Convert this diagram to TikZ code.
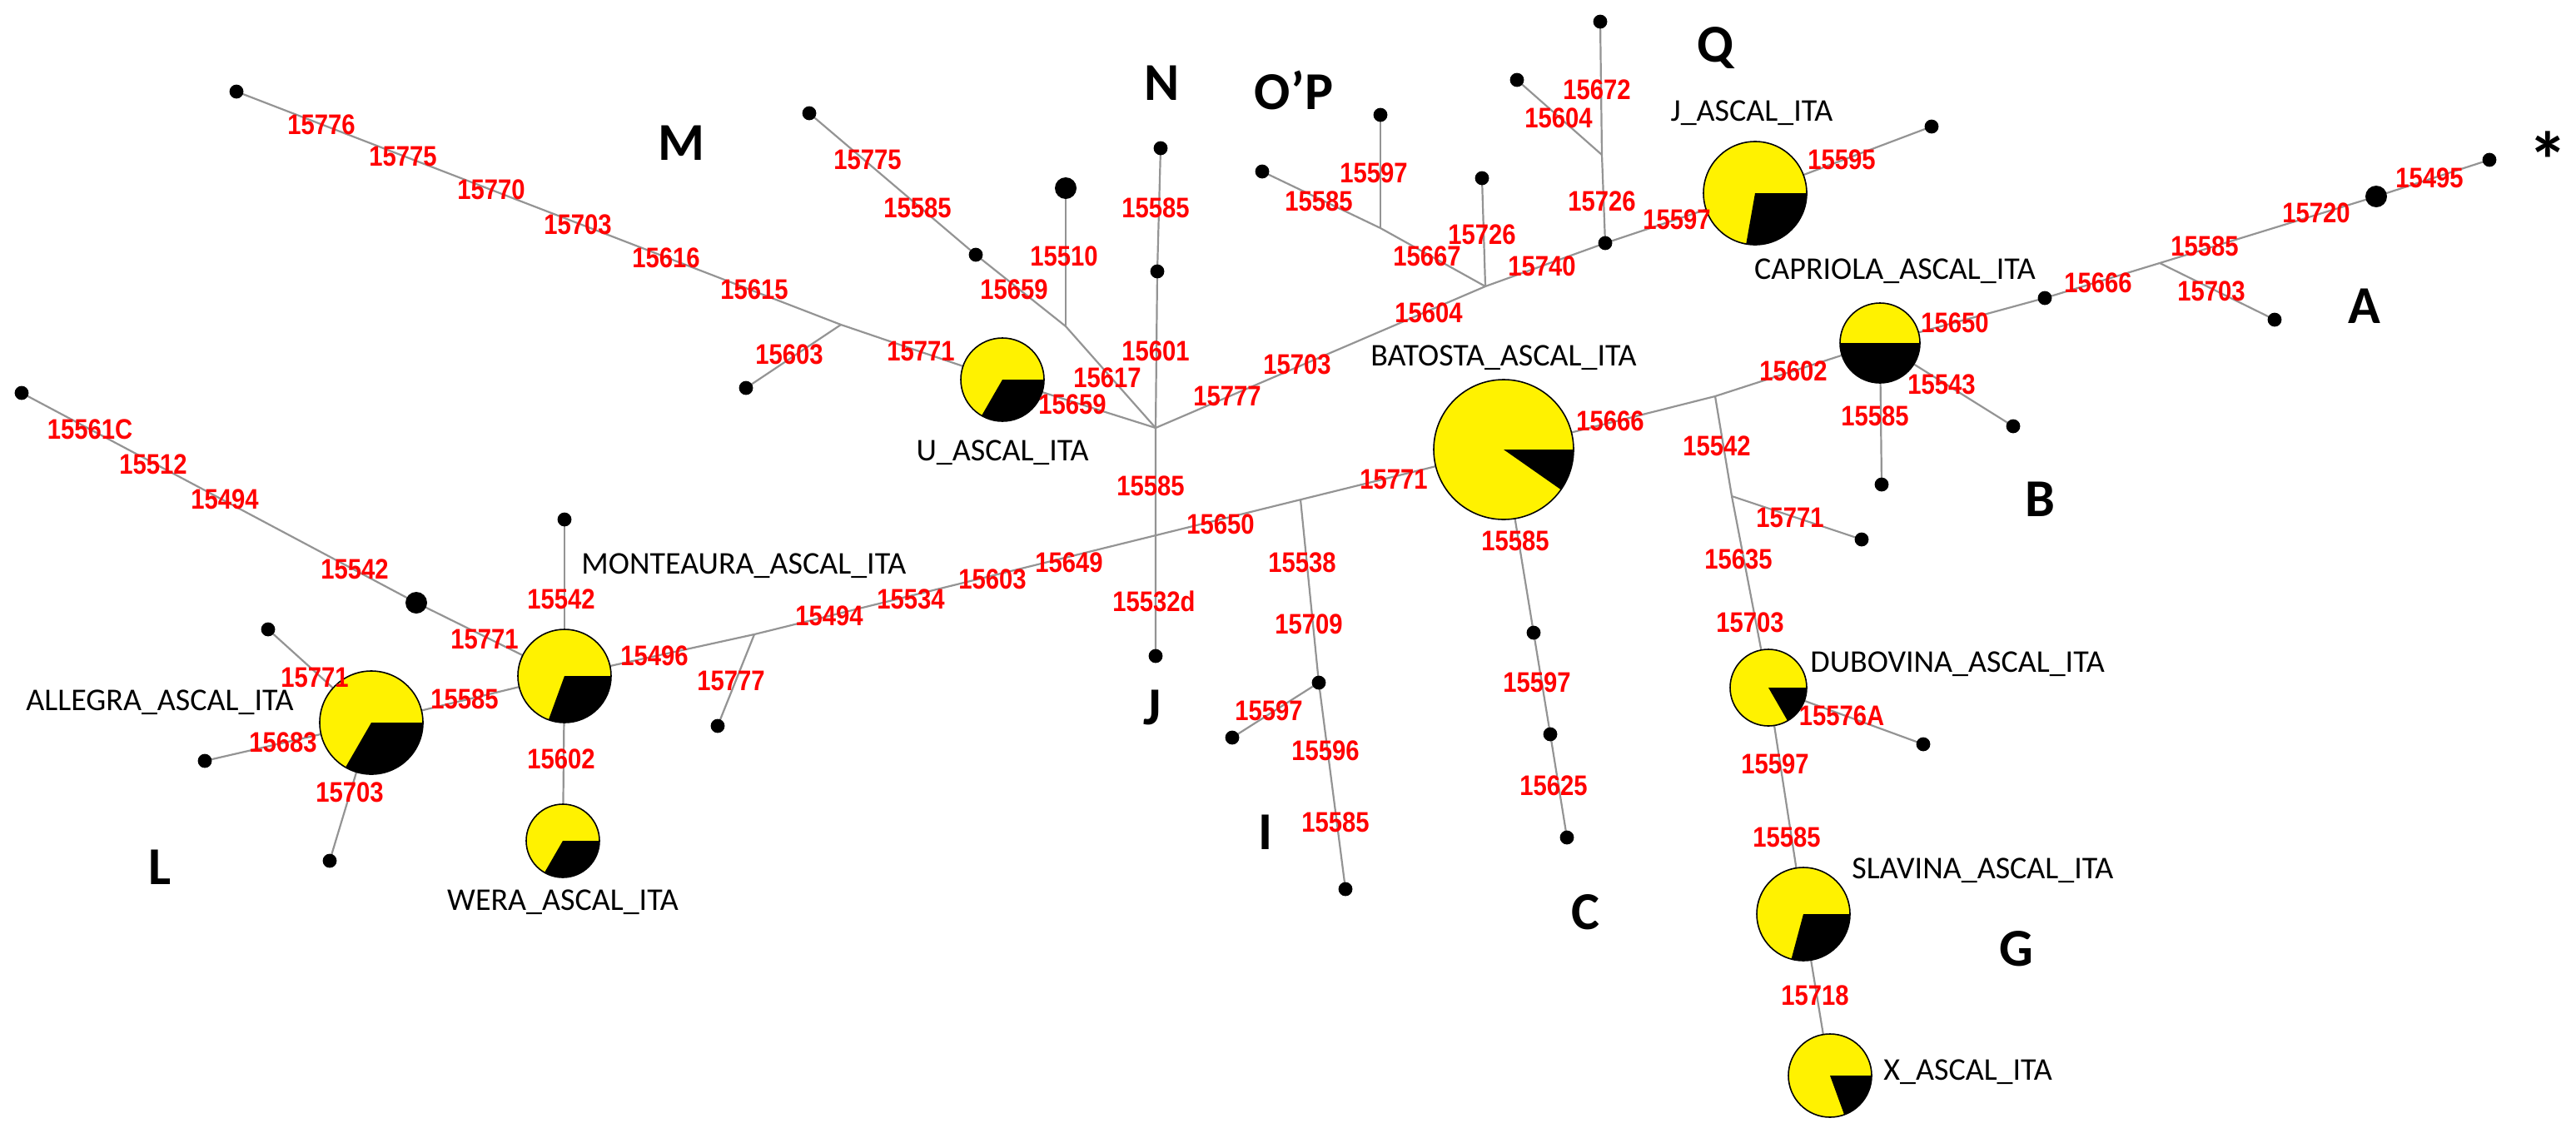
\documentclass[tikz,border=0pt]{standalone}
\usepackage{fontspec}
\setmainfont{Carlito}
\newfontfamily\labfont{Liberation Sans}
\begin{document}
\begin{tikzpicture}[x=1pt,y=-1pt,
  edge/.style={draw=black!42,line width=1.1pt},
  lab/.style={text=red,font=\labfont\bfseries\fontsize{17}{17}\selectfont,xscale=0.86,inner sep=0pt},
  hapname/.style={font=\fontsize{19}{19}\selectfont,inner sep=0pt},
  big/.style={font=\bfseries\fontsize{32}{32}\selectfont,inner sep=0pt}]
\useasboundingbox (0,0) rectangle (1547,683);
\newcommand{\hapdot}[2][4.2]{\fill[black] (#2) circle[radius=#1];}
\newcommand{\happie}[3]{\fill[yellow] (#1) circle[radius=#2];
  \fill[black] (#1) -- ++(0:#2) arc[start angle=0,end angle=#3,radius=#2] -- cycle;
  \draw[black,line width=0.8pt] (#1) circle[radius=#2];}
% coordinates
\coordinate (m1) at (142,55); \coordinate (mj) at (505,195); \coordinate (m2) at (448,233);
\coordinate (u) at (602,228); \coordinate (hub) at (694,257); \coordinate (nd2) at (695,163);
\coordinate (nd1) at (697,89); \coordinate (jd) at (694,394); \coordinate (bj1) at (640,196);
\coordinate (bd) at (640,113); \coordinate (d586) at (586,153); \coordinate (d486) at (486,68);
\coordinate (qj) at (892,172); \coordinate (qd1) at (890,107); \coordinate (qj2) at (829,137);
\coordinate (qd2) at (829,69); \coordinate (qd3) at (758,103); \coordinate (qd4) at (964,146);
\coordinate (qj3) at (962,93); \coordinate (qd5) at (961,13); \coordinate (qd6) at (911,48);
\coordinate (jp) at (1054,116); \coordinate (jd2) at (1160,76);
\coordinate (bat) at (903,270); \coordinate (ij) at (781,300); \coordinate (id1) at (792,410);
\coordinate (id2) at (808,534); \coordinate (id3) at (740,443);
\coordinate (cd1) at (921,380); \coordinate (cd2) at (931,441); \coordinate (cd3) at (941,503);
\coordinate (bj) at (1030,238); \coordinate (cap) at (1129,206); \coordinate (ad1) at (1228,179);
\coordinate (aj) at (1297,158); \coordinate (abd) at (1427,118); \coordinate (ad2) at (1495,96);
\coordinate (ad3) at (1366,192); \coordinate (bd1) at (1209,256); \coordinate (bd2) at (1130,291);
\coordinate (gj) at (1040,298); \coordinate (gd1) at (1118,324); \coordinate (dub) at (1062,413);
\coordinate (dd1) at (1155,447); \coordinate (sla) at (1083,549); \coordinate (xp) at (1099,646);
\coordinate (mon) at (339,406); \coordinate (lj) at (453,381); \coordinate (ld1) at (431,436);
\coordinate (mond) at (339,312); \coordinate (wera) at (338,505); \coordinate (alle) at (223,434);
\coordinate (lbd) at (250,362); \coordinate (ld0) at (13,236); \coordinate (ada) at (161,378);
\coordinate (adb) at (123,457); \coordinate (adc) at (198,517);
% edges
\draw[edge] (m1) -- (mj) -- (u) -- (hub); \draw[edge] (mj) -- (m2);
\draw[edge] (nd1) -- (nd2) -- (hub) -- (jd);
\draw[edge] (hub) -- (bj1) -- (d586) -- (d486); \draw[edge] (bj1) -- (bd);
\draw[edge] (hub) -- (qj) -- (qd4) -- (jp) -- (jd2);
\draw[edge] (qj) -- (qd1); \draw[edge] (qj) -- (qj2) -- (qd3); \draw[edge] (qj2) -- (qd2);
\draw[edge] (qd4) -- (qj3) -- (qd5); \draw[edge] (qj3) -- (qd6);
\draw[edge] (mon) -- (lj) -- (bat); \draw[edge] (lj) -- (ld1);
\draw[edge] (ij) -- (id1) -- (id2); \draw[edge] (id1) -- (id3);
\draw[edge] (bat) -- (cd1) -- (cd2) -- (cd3);
\draw[edge] (bat) -- (bj) -- (cap) -- (ad1) -- (aj) -- (abd) -- (ad2); \draw[edge] (aj) -- (ad3);
\draw[edge] (cap) -- (bd1); \draw[edge] (cap) -- (bd2);
\draw[edge] (bj) -- (gj) -- (dub) -- (sla) -- (xp); \draw[edge] (gj) -- (gd1); \draw[edge] (dub) -- (dd1);
\draw[edge] (mon) -- (mond); \draw[edge] (mon) -- (wera); \draw[edge] (mon) -- (alle);
\draw[edge] (mon) -- (lbd) -- (ld0);
\draw[edge] (alle) -- (ada); \draw[edge] (alle) -- (adb); \draw[edge] (alle) -- (adc);
% dots
\foreach \p in {m1,m2,nd2,nd1,jd,d586,d486,qd1,qd2,qd3,qd4,qd5,qd6,jd2,id1,id2,id3,cd1,cd2,cd3,ad1,ad2,ad3,bd1,bd2,gd1,dd1,ld1,mond,ld0,ada,adb,adc}{\hapdot{\p}}
\hapdot[6.5]{bd} \hapdot[6.5]{lbd} \hapdot[6.5]{abd}
% pies
\happie{u}{25}{120} \happie{bat}{42}{35} \happie{jp}{31}{100} \happie{cap}{24}{180}
\happie{mon}{28}{110} \happie{alle}{31}{120} \happie{wera}{22}{120} \happie{dub}{23}{60}
\happie{sla}{28}{105} \happie{xp}{25}{70}
% red labels
\foreach \x/\y/\t in {193/75/15776,242/94/15775,295/114/15770,347/135/15703,400/155/15616,453/174/15615,474/213/15603,553/211/15771,
54/258/15561C,92/279/15512,135/300/15494,213/342/15542,
521/96/15775,551/125/15585,609/174/15659,639/154/15510,694/125/15585,694/211/15601,665/227/15617,644/243/15659,737/238/15777,779/219/15703,858/188/15604,926/160/15740,890/141/15726,857/154/15667,825/104/15597,792/121/15585,962/121/15726,959/54/15672,936/71/15604,1007/132/15597,
967/253/15666,837/288/15771,910/325/15585,733/315/15650,642/338/15649,691/292/15585,782/338/15538,
1106/96/15595,1174/194/15650,1260/170/15666,1324/148/15585,1328/175/15703,1391/128/15720,1459/107/15495,1077/223/15602,1166/231/15543,1126/250/15585,1031/268/15542,1075/311/15771,1044/336/15635,
337/360/15542,291/384/15771,393/394/15496,439/409/15777,498/370/15494,547/360/15534,596/348/15603,189/407/15771,279/420/15585,170/446/15683,210/476/15703,337/456/15602,
693/361/15532d,786/375/15709,762/427/15597,796/451/15596,802/494/15585,923/410/15597,933/472/15625,
1051/374/15703,1106/430/15576A,1066/459/15597,1073/503/15585,1090/598/15718}
  {\node[lab] at (\x,\y) {\t};}
% haplotype names
\node[hapname] (nallegra) at (96,422) {ALLEGRA\_ASCAL\_ITA};
\node[hapname,anchor=west] (nmont) at (349,340) {MONTEAURA\_ASCAL\_ITA};
\node[hapname] (nwera) at (338,542) {WERA\_ASCAL\_ITA};
\node[hapname] (nu) at (602,272) {U\_ASCAL\_ITA};
\node[hapname] (nbat) at (903,215) {BATOSTA\_ASCAL\_ITA};
\node[hapname] (nj) at (1052,68) {J\_ASCAL\_ITA};
\node[hapname] (ncap) at (1138,163) {CAPRIOLA\_ASCAL\_ITA};
\node[hapname,anchor=west] (ndub) at (1087,399) {DUBOVINA\_ASCAL\_ITA};
\node[hapname,anchor=west] (nsla) at (1112,523) {SLAVINA\_ASCAL\_ITA};
\node[hapname,anchor=west] (nx) at (1131,644) {X\_ASCAL\_ITA};
% group letters
\node[big] (gM) at (409,86) {M}; \node[big] (gN) at (698,50) {N};
\node[big] (gOP) at (777,54) {O’P}; \node[big] (gQ) at (1030,29) {Q};
\node[big,font=\bfseries\fontsize{48}{48}\selectfont] (gS) at (1530,96) {*}; \node[big] (gA) at (1420,184) {A};
\node[big] (gB) at (1225,300) {B}; \node[big] (gC) at (952,548) {C};
\node[big] (gG) at (1211,570) {G}; \node[big] (gI) at (760,500) {I};
\node[big] (gJ) at (692,425) {J}; \node[big] (gL) at (96,521) {L};
\end{tikzpicture}
\end{document}
